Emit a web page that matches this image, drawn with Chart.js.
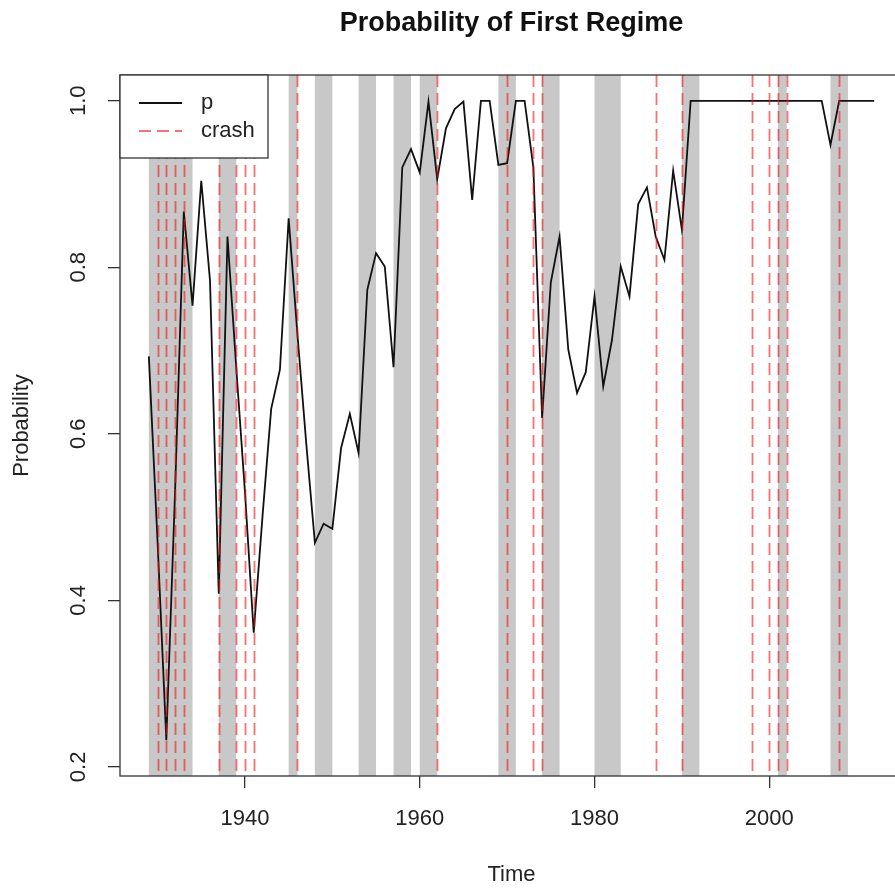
<!DOCTYPE html>
<html>
<head>
<meta charset="utf-8">
<script src="https://cdn.jsdelivr.net/npm/chart.js@4.4.1/dist/chart.umd.min.js"></script>
<style>
  html, body { margin: 0; padding: 0; background: #fff; overflow: hidden; }
  #wrap { width: 910px; height: 888px; }
</style>
</head>
<body>
<div id="wrap"><canvas id="chart" width="910" height="888"></canvas></div>
<script>
// probability of first regime, one value per year from 1929
const firstYear = 1929;
const pValues = [
  0.693, 0.47, 0.232, 0.53, 0.867, 0.754, 0.904, 0.784, 0.408, 0.837,
  0.68, 0.53, 0.361, 0.50, 0.630, 0.677, 0.859, 0.72, 0.59, 0.469,
  0.492, 0.486, 0.583, 0.624, 0.577, 0.773, 0.817, 0.801, 0.680, 0.920,
  0.942, 0.914, 0.999, 0.906, 0.967, 0.990, 0.999, 0.881, 1.0, 1.0,
  0.923, 0.925, 1.0, 1.0, 0.920, 0.619, 0.782, 0.837, 0.701, 0.649,
  0.674, 0.765, 0.657, 0.713, 0.801, 0.765, 0.876, 0.896, 0.837, 0.809,
  0.916, 0.845, 1.0, 1.0, 1.0, 1.0, 1.0, 1.0, 1.0, 1.0,
  1.0, 1.0, 1.0, 1.0, 1.0, 1.0, 1.0, 1.0, 0.947, 1.0,
  1.0, 1.0, 1.0, 1.0
];
const years = pValues.map((_, i) => firstYear + i);

// shaded recession periods
const recessionStarts = [1929, 1937, 1945, 1948, 1953, 1957, 1960, 1969, 1974, 1980, 1990, 2001, 2007];
const recessionEnds = [1934, 1939, 1946, 1950, 1955, 1959, 1962, 1971, 1976, 1983, 1992, 2002, 2009];

// crash years (dashed red lines)
const crashYears = [1930, 1931, 1932, 1933, 1937, 1939, 1940, 1941, 1946, 1962,
  1970, 1973, 1974, 1987, 1990, 1998, 2000, 2001, 2002, 2008];

const xTicks = [1940, 1960, 1980, 2000];
const yTicks = [0.2, 0.4, 0.6, 0.8, 1.0];

const FONT = "'Liberation Sans', Arial, Helvetica, sans-serif";
const crashColor = "rgba(245, 20, 20, 0.6)";
const crashDash = [12, 6];
const bandColor = "#c8c8c8";

const shadePlugin = {
  id: "shade",
  beforeDatasetsDraw(chart) {
    const { ctx, chartArea, scales } = chart;
    ctx.save();
    ctx.fillStyle = bandColor;
    recessionStarts.forEach((s, i) => {
      const x0 = scales.x.getPixelForValue(s);
      const x1 = scales.x.getPixelForValue(recessionEnds[i]);
      ctx.fillRect(x0, chartArea.top, x1 - x0, chartArea.bottom - chartArea.top);
    });
    ctx.restore();
  },
  afterDatasetsDraw(chart) {
    const { ctx, chartArea, scales } = chart;
    ctx.save();
    ctx.strokeStyle = crashColor;
    ctx.lineWidth = 1.8;
    ctx.setLineDash(crashDash);
    crashYears.forEach((yr) => {
      const x = Math.round(scales.x.getPixelForValue(yr)) + 0.5;
      ctx.beginPath();
      ctx.moveTo(x, chartArea.top);
      ctx.lineTo(x, chartArea.bottom);
      ctx.stroke();
    });
    ctx.restore();
  },
  afterDraw(chart) {
    const { ctx, chartArea } = chart;
    ctx.save();
    // plot box
    ctx.strokeStyle = "#333";
    ctx.lineWidth = 1.3;
    ctx.strokeRect(chartArea.left, chartArea.top, chartArea.right - chartArea.left, chartArea.bottom - chartArea.top);

    // legend box, top left
    const lx = chartArea.left, ly = chartArea.top;
    ctx.fillStyle = "#fff";
    ctx.fillRect(lx, ly, 148, 83);
    ctx.strokeRect(lx, ly, 148, 83);
    const rows = [
      { label: "p", color: "#111", dash: [] },
      { label: "crash", color: crashColor, dash: crashDash },
    ];
    rows.forEach((r, i) => {
      const y = ly + 28 + i * 28;
      ctx.strokeStyle = r.color;
      ctx.lineWidth = 1.8;
      ctx.setLineDash(r.dash);
      ctx.beginPath();
      ctx.moveTo(lx + 19, y);
      ctx.lineTo(lx + 62, y);
      ctx.stroke();
      ctx.setLineDash([]);
      ctx.fillStyle = "#222";
      ctx.font = "22px " + FONT;
      ctx.textAlign = "left";
      ctx.textBaseline = "middle";
      ctx.fillText(r.label, lx + 81, y);
    });
    ctx.restore();
  },
};

new Chart(document.getElementById("chart"), {
  type: "line",
  data: {
    datasets: [
      {
        label: "p",
        data: years.map((yr, i) => ({ x: yr, y: pValues[i] })),
        borderColor: "#111",
        borderWidth: 1.8,
        pointRadius: 0,
        tension: 0,
        fill: false,
      },
    ],
  },
  options: {
    responsive: false,
    animation: false,
    devicePixelRatio: 1,
    layout: { padding: { left: 0, right: 7, top: 0, bottom: 0 } },
    plugins: {
      legend: { display: false },
      tooltip: { enabled: false },
      title: {
        display: true,
        fullSize: false,
        text: "Probability of First Regime",
        color: "#111",
        font: { family: FONT, size: 27, weight: "bold" },
        padding: { top: 7, bottom: 35.6 },
      },
    },
    scales: {
      x: {
        type: "linear",
        min: 1925.7,
        max: 2015.3,
        afterBuildTicks: (scale) => {
          scale.ticks = xTicks.map((v) => ({ value: v }));
        },
        afterFit: (scale) => {
          scale.height = 112;
        },
        grid: { drawOnChartArea: false, drawTicks: true, tickLength: 12, color: "#333", lineWidth: 1.3 },
        border: { display: false },
        ticks: {
          color: "#222",
          font: { family: FONT, size: 22 },
          padding: 18,
          maxRotation: 0,
          callback: (v) => String(v),
        },
        title: {
          display: true,
          text: "Time",
          color: "#222",
          font: { family: FONT, size: 22 },
          padding: { top: 0, bottom: 0 },
        },
      },
      y: {
        type: "linear",
        min: 0.189,
        max: 1.031,
        afterBuildTicks: (scale) => {
          scale.ticks = yTicks.map((v) => ({ value: v }));
        },
        afterFit: (scale) => {
          scale.width = 120;
        },
        grid: { drawOnChartArea: false, drawTicks: true, tickLength: 12, color: "#333", lineWidth: 1.3 },
        border: { display: false },
        ticks: {
          color: "#222",
          font: { family: FONT, size: 22 },
          padding: 14,
          minRotation: 90,
          maxRotation: 90,
          crossAlign: "center",
          callback: (v) => v.toFixed(1),
        },
        title: {
          display: true,
          text: "Probability",
          color: "#222",
          font: { family: FONT, size: 22 },
          padding: { top: 9, bottom: 0 },
        },
      },
    },
  },
  plugins: [shadePlugin],
});
</script>
</body>
</html>
